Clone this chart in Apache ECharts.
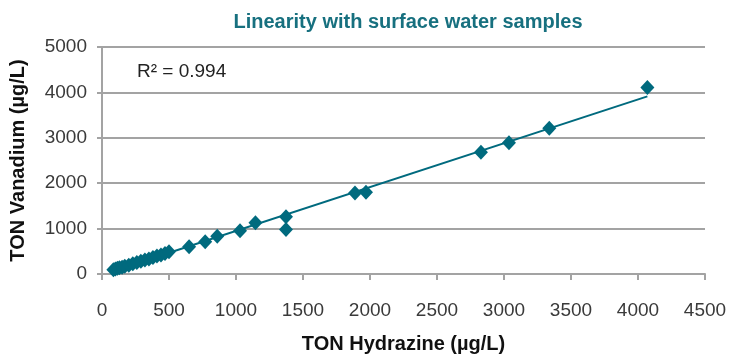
<!DOCTYPE html>
<html>
<head>
<meta charset="utf-8">
<script src="https://cdn.jsdelivr.net/npm/echarts@6/dist/echarts.min.js"></script>
<style>
  html, body { margin: 0; padding: 0; background: #ffffff; }
  #chart { width: 734px; height: 355px; }
</style>
</head>
<body>
<div id="chart"></div>
<script>
// Surface water samples: TON by hydrazine reduction vs. vanadium reduction (µg/L)
const hydrazine = [85, 100, 115, 130, 150, 170, 200, 230, 260, 290, 320, 350, 380, 410, 440, 470, 500,
                   650, 770, 860, 1030, 1145, 1373, 1373, 1888, 1970, 2828, 3037, 3338, 4070];
const vanadium  = [95, 110, 125, 140, 150, 170, 195, 225, 255, 280, 310, 330, 365, 395, 420, 450, 490,
                   600, 710, 830, 950, 1130, 1260, 980, 1785, 1800, 2680, 2890, 3210, 4110];
const xTicks = [0, 500, 1000, 1500, 2000, 2500, 3000, 3500, 4000, 4500];
const yTicks = [0, 1000, 2000, 3000, 4000, 5000];
const r2Text = 'R\u00B2 = 0.994';

const teal = '#006a7e';
const axisGray = '#a3a3a3';

// Least-squares trendline through the samples
const n = hydrazine.length;
const mx = hydrazine.reduce((a, b) => a + b, 0) / n;
const my = vanadium.reduce((a, b) => a + b, 0) / n;
let sxy = 0, sxx = 0;
for (let i = 0; i < n; i++) {
  sxy += (hydrazine[i] - mx) * (vanadium[i] - my);
  sxx += (hydrazine[i] - mx) * (hydrazine[i] - mx);
}
const slope = sxy / sxx;
const intercept = my - slope * mx;
const xMin = Math.min(...hydrazine), xMax = Math.max(...hydrazine);
const trend = [[xMin, intercept + slope * xMin], [xMax, intercept + slope * xMax]];

const chart = echarts.init(document.getElementById('chart'), null, { renderer: 'canvas' });
chart.setOption({
  backgroundColor: '#ffffff',
  animation: false,
  title: {
    text: 'Linearity with surface water samples',
    left: 403, top: 7, textAlign: 'center',
    textStyle: { color: '#17707f', fontFamily: 'Liberation Sans', fontWeight: 'bold', fontSize: 20 }
  },
  grid: { left: 102, right: 29, top: 47, bottom: 81, outerBoundsMode: 'none', containLabel: false },
  xAxis: {
    type: 'value', min: xTicks[0], max: xTicks[xTicks.length - 1], interval: 500,
    name: 'TON Hydrazine (\u00B5g/L)', nameLocation: 'middle', nameGap: 60,
    nameTextStyle: { color: '#111', fontFamily: 'Liberation Sans', fontWeight: 'bold', fontSize: 20 },
    axisLine: { show: true, lineStyle: { color: axisGray, width: 2 } },
    axisTick: { show: true, length: 6, lineStyle: { color: axisGray, width: 2 } },
    axisLabel: { margin: 27, color: '#3a3a3a', fontFamily: 'Liberation Sans', fontSize: 19,
                 formatter: v => String(v) },
    splitLine: { show: false }
  },
  yAxis: {
    type: 'value', min: yTicks[0], max: yTicks[yTicks.length - 1], interval: 1000,
    name: 'TON Vanadium (\u00B5g/L)', nameLocation: 'middle', nameGap: 74,
    nameTextStyle: { color: '#111', fontFamily: 'Liberation Sans', fontWeight: 'bold', fontSize: 20 },
    axisLine: { show: true, lineStyle: { color: axisGray, width: 2 } },
    axisTick: { show: true, length: 5, lineStyle: { color: axisGray, width: 2 } },
    axisLabel: { margin: 15, color: '#3a3a3a', fontFamily: 'Liberation Sans', fontSize: 19,
                 formatter: v => String(v) },
    splitLine: { show: true, lineStyle: { color: axisGray, width: 2 } }
  },
  graphic: [{
    type: 'text', left: 137, top: 62,
    style: { text: r2Text, fill: '#222', font: '19px "Liberation Sans"' }
  }],
  series: [
    {
      type: 'line', data: trend, symbol: 'none', silent: true, z: 2,
      lineStyle: { color: teal, width: 2 }
    },
    {
      type: 'scatter', data: hydrazine.map((x, i) => [x, vanadium[i]]),
      symbol: 'diamond', symbolSize: [14, 15], z: 3,
      itemStyle: { color: teal, opacity: 1 }
    }
  ]
});
</script>
</body>
</html>
